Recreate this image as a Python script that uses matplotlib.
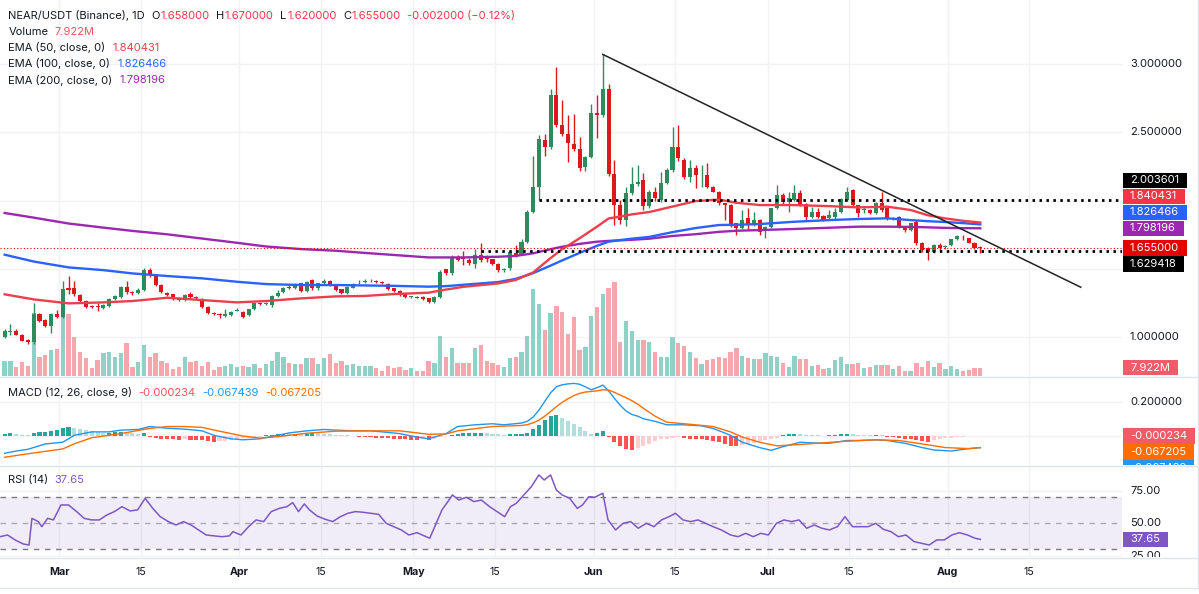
import numpy as np
import matplotlib
matplotlib.use("Agg")
import matplotlib.pyplot as plt
from matplotlib.patches import Rectangle
from matplotlib.lines import Line2D

plt.rcParams['font.family'] = ['Inter', 'DejaVu Sans']
plt.rcParams['axes.unicode_minus'] = False

# ---------------------------------------------------------------- data
opens = [1.005, 1.040, 1.049, 1.017, 0.980, 0.963, 1.168, 1.127, 1.085, 1.168,
         1.151, 1.360, 1.358, 1.310, 1.266, 1.230, 1.226, 1.212, 1.232, 1.278,
         1.298, 1.366, 1.334, 1.326, 1.346, 1.493, 1.456, 1.383, 1.326, 1.314,
         1.290, 1.273, 1.314, 1.298, 1.278, 1.224, 1.180, 1.168, 1.155, 1.163,
         1.195, 1.188, 1.163, 1.205, 1.253, 1.245, 1.237, 1.302, 1.329, 1.370,
         1.360, 1.395, 1.341, 1.420, 1.358, 1.395, 1.412, 1.380, 1.351, 1.322,
         1.363, 1.395, 1.405, 1.410, 1.415, 1.405, 1.388, 1.358, 1.341, 1.322,
         1.297, 1.295, 1.297, 1.285, 1.261, 1.297, 1.497, 1.468, 1.590, 1.578,
         1.566, 1.540, 1.603, 1.578, 1.570, 1.540, 1.495, 1.505, 1.615, 1.603,
         1.700, 1.920, 2.100, 2.444, 2.390, 2.770, 2.550, 2.490, 2.415, 2.380,
         2.244, 2.322, 2.640, 2.627, 2.817, 2.195, 1.968, 1.858, 2.053, 2.125,
         2.150, 1.963, 2.066, 2.005, 2.127, 2.224, 2.395, 2.298, 2.176, 2.237,
         2.185, 2.188, 2.102, 2.066, 1.980, 1.968, 1.834, 1.797, 1.871, 1.822,
         1.859, 1.785, 1.805, 1.944, 2.041, 1.993, 2.005, 2.053, 1.976, 1.883,
         1.920, 1.888, 1.871, 1.883, 1.920, 2.005, 2.078, 1.968, 1.930, 1.932,
         1.907, 1.980, 1.944, 1.871, 1.883, 1.810, 1.785, 1.846, 1.688, 1.651,
         1.627, 1.676, 1.660, 1.676, 1.717, 1.734, 1.724, 1.693, 1.658]
highs = [1.058, 1.100, 1.058, 1.022, 0.985, 1.249, 1.175, 1.135, 1.175, 1.200,
         1.412, 1.448, 1.412, 1.320, 1.275, 1.236, 1.253, 1.245, 1.290, 1.310,
         1.375, 1.410, 1.340, 1.360, 1.510, 1.505, 1.465, 1.390, 1.335, 1.320,
         1.298, 1.320, 1.330, 1.305, 1.285, 1.230, 1.185, 1.180, 1.205, 1.195,
         1.215, 1.195, 1.210, 1.260, 1.262, 1.260, 1.310, 1.345, 1.370, 1.380,
         1.400, 1.400, 1.410, 1.430, 1.400, 1.425, 1.420, 1.385, 1.355, 1.375,
         1.395, 1.420, 1.430, 1.425, 1.420, 1.410, 1.400, 1.360, 1.345, 1.325,
         1.305, 1.300, 1.300, 1.290, 1.300, 1.490, 1.500, 1.600, 1.600, 1.630,
         1.580, 1.650, 1.690, 1.600, 1.575, 1.545, 1.510, 1.635, 1.675, 1.720,
         1.930, 2.330, 2.480, 2.490, 2.820, 2.980, 2.740, 2.630, 2.634, 2.468,
         2.330, 2.710, 2.770, 3.070, 2.850, 2.300, 2.005, 2.100, 2.250, 2.260,
         2.200, 2.080, 2.100, 2.210, 2.240, 2.540, 2.554, 2.310, 2.298, 2.260,
         2.260, 2.273, 2.110, 2.070, 1.985, 1.975, 1.840, 1.932, 1.944, 1.920,
         1.865, 1.815, 1.950, 2.115, 2.053, 2.066, 2.115, 2.078, 1.980, 1.956,
         1.944, 1.895, 1.932, 1.944, 2.020, 2.102, 2.085, 1.970, 1.956, 1.940,
         1.990, 2.066, 1.950, 1.880, 1.890, 1.815, 1.840, 1.859, 1.695, 1.660,
         1.685, 1.688, 1.676, 1.720, 1.749, 1.749, 1.730, 1.700, 1.670]
lows = [0.998, 1.018, 1.015, 0.970, 0.955, 0.955, 1.110, 1.078, 1.029, 1.140,
        1.145, 1.317, 1.305, 1.255, 1.215, 1.212, 1.195, 1.205, 1.225, 1.270,
        1.290, 1.320, 1.310, 1.320, 1.340, 1.440, 1.375, 1.325, 1.300, 1.270,
        1.265, 1.265, 1.285, 1.280, 1.215, 1.168, 1.162, 1.140, 1.150, 1.155,
        1.190, 1.140, 1.155, 1.200, 1.240, 1.235, 1.225, 1.295, 1.325, 1.355,
        1.355, 1.335, 1.335, 1.350, 1.350, 1.390, 1.375, 1.340, 1.315, 1.318,
        1.360, 1.390, 1.400, 1.405, 1.398, 1.390, 1.345, 1.335, 1.305, 1.290,
        1.290, 1.285, 1.275, 1.250, 1.255, 1.290, 1.460, 1.460, 1.560, 1.530,
        1.530, 1.505, 1.555, 1.550, 1.530, 1.480, 1.475, 1.490, 1.590, 1.600,
        1.690, 1.910, 2.0036, 2.330, 2.380, 2.540, 2.470, 2.280, 2.360, 2.220,
        2.220, 2.310, 2.460, 2.610, 2.180, 1.820, 1.830, 1.815, 2.040, 2.110,
        1.930, 1.950, 2.000, 1.990, 2.120, 2.210, 2.290, 2.160, 2.139, 2.090,
        2.100, 2.090, 2.060, 1.970, 1.859, 1.810, 1.749, 1.790, 1.785, 1.815,
        1.749, 1.724, 1.800, 1.940, 1.968, 1.920, 2.000, 1.960, 1.859, 1.871,
        1.875, 1.850, 1.859, 1.859, 1.910, 2.000, 1.960, 1.883, 1.907, 1.900,
        1.900, 1.920, 1.859, 1.860, 1.797, 1.773, 1.780, 1.676, 1.627, 1.566,
        1.615, 1.639, 1.644, 1.670, 1.712, 1.712, 1.688, 1.645, 1.620]
closes = [1.046, 1.046, 1.020, 0.976, 0.963, 1.168, 1.122, 1.085, 1.168, 1.151,
          1.354, 1.350, 1.317, 1.266, 1.224, 1.220, 1.222, 1.237, 1.278, 1.302,
          1.371, 1.329, 1.325, 1.346, 1.493, 1.456, 1.383, 1.334, 1.310, 1.278,
          1.273, 1.310, 1.292, 1.285, 1.220, 1.176, 1.170, 1.162, 1.170, 1.188,
          1.200, 1.151, 1.205, 1.253, 1.245, 1.250, 1.302, 1.326, 1.360, 1.362,
          1.390, 1.341, 1.407, 1.358, 1.395, 1.412, 1.380, 1.346, 1.322, 1.371,
          1.388, 1.400, 1.410, 1.415, 1.405, 1.398, 1.351, 1.341, 1.310, 1.297,
          1.300, 1.290, 1.278, 1.256, 1.297, 1.480, 1.468, 1.590, 1.566, 1.573,
          1.542, 1.603, 1.566, 1.573, 1.536, 1.490, 1.500, 1.627, 1.595, 1.700,
          1.920, 2.100, 2.450, 2.390, 2.770, 2.550, 2.487, 2.420, 2.375, 2.236,
          2.322, 2.640, 2.627, 2.817, 2.195, 1.968, 1.858, 2.053, 2.120, 2.135,
          1.963, 2.066, 2.017, 2.127, 2.224, 2.395, 2.310, 2.176, 2.237, 2.188,
          2.190, 2.102, 2.066, 1.980, 1.968, 1.822, 1.797, 1.859, 1.822, 1.859,
          1.773, 1.810, 1.944, 2.041, 1.993, 2.017, 2.053, 1.968, 1.883, 1.920,
          1.883, 1.859, 1.895, 1.920, 2.010, 2.066, 1.968, 1.907, 1.935, 1.907,
          1.980, 1.932, 1.863, 1.874, 1.810, 1.785, 1.834, 1.688, 1.639, 1.627,
          1.676, 1.651, 1.664, 1.717, 1.741, 1.731, 1.693, 1.657, 1.655]
volumes_m = [14.3, 14.3, 8.3, 13.4, 9.5, 59.8, 18.1, 19.7, 24.8, 25.8,
             57.0, 59.1, 37.2, 22.9, 16.9, 7.3, 15.3, 21.9, 22.9, 18.1,
             21.7, 31.2, 8.9, 13.1, 29.6, 18.4, 21.7, 14.3, 12.7, 6.4,
             8.9, 17.8, 13.1, 14.3, 9.5, 13.1, 5.7, 8.9, 9.8, 11.2,
             8.9, 9.8, 8.9, 11.2, 7.3, 11.2, 14.3, 23.2, 18.4, 12.7,
             11.2, 11.2, 16.9, 16.9, 11.2, 16.9, 21.0, 12.7, 14.6, 10.5,
             11.4, 9.5, 9.5, 9.5, 7.3, 5.1, 9.5, 7.3, 8.9, 5.7,
             7.3, 4.8, 4.8, 14.6, 12.7, 38.2, 18.4, 26.4, 12.1, 12.1,
             12.7, 26.4, 29.3, 14.6, 12.7, 10.5, 8.9, 16.9, 18.4, 23.2,
             38.2, 82.7, 68.7, 43.9, 59.8, 67.1, 61.1, 40.1, 56.6, 24.5,
             28.0, 57.4, 66.1, 78.5, 83.7, 89.2, 32.7, 52.2, 42.9, 34.3,
             34.6, 32.7, 22.9, 17.8, 17.8, 36.9, 31.2, 28.6, 23.2, 17.5,
             11.4, 15.3, 15.9, 18.4, 16.9, 23.2, 26.4, 19.4, 16.9, 16.2,
             16.2, 21.7, 19.4, 18.4, 12.1, 8.9, 19.4, 15.9, 15.9, 9.5,
             10.5, 6.7, 7.3, 15.3, 17.8, 11.2, 11.2, 12.1, 7.3, 8.9,
             10.5, 10.5, 10.5, 6.7, 9.5, 5.1, 5.1, 12.1, 8.9, 14.3,
             8.3, 12.1, 6.7, 9.8, 6.7, 4.8, 5.7, 7.9, 7.922]

ema_idx = [0, 5, 11, 17, 22, 28, 34, 40, 45, 51, 57, 62, 67, 73, 76, 79, 85, 88, 91, 94,
           96, 99, 102, 104, 106, 108, 111, 115, 119, 123, 126, 130, 136, 142, 147, 152,
           156, 159, 162, 165, 168]
ema50 = [1.315, 1.278, 1.249, 1.256, 1.266, 1.290, 1.273, 1.256, 1.266, 1.285, 1.300,
         1.303, 1.317, 1.327, 1.350, 1.370, 1.395, 1.420, 1.475, 1.580, 1.645, 1.725,
         1.810, 1.870, 1.884, 1.900, 1.917, 1.957, 1.997, 2.008, 1.985, 1.968, 1.968,
         1.960, 1.951, 1.956, 1.932, 1.893, 1.870, 1.853, 1.840431]
ema100 = [1.605, 1.555, 1.512, 1.492, 1.468, 1.449, 1.432, 1.407, 1.390, 1.383, 1.383,
          1.380, 1.377, 1.371, 1.375, 1.385, 1.405, 1.428, 1.470, 1.525, 1.563, 1.618,
          1.670, 1.700, 1.712, 1.722, 1.735, 1.770, 1.800, 1.822, 1.824, 1.829, 1.846,
          1.858, 1.866, 1.871, 1.858, 1.850, 1.844, 1.836, 1.826466]
ema200 = [1.910, 1.876, 1.833, 1.803, 1.779, 1.754, 1.723, 1.692, 1.665, 1.646, 1.634,
          1.618, 1.603, 1.585, 1.585, 1.585, 1.590, 1.596, 1.615, 1.645, 1.663, 1.684,
          1.700, 1.706, 1.710, 1.714, 1.722, 1.742, 1.755, 1.772, 1.780, 1.785, 1.793,
          1.802, 1.810, 1.810, 1.808, 1.805, 1.801, 1.799, 1.798196]

macd_idx = [0, 2, 4, 7, 10, 12, 15, 18, 20, 23, 25, 28, 31, 34, 36, 39, 41, 44, 47, 49,
            52, 55, 57, 60, 63, 65, 68, 71, 73, 76, 78, 81, 84, 86, 89, 90, 91, 92, 93, 94,
            95, 96, 97, 98, 99, 100, 101, 102, 103, 104, 105, 106, 107, 108, 109, 110, 112,
            114, 117, 120, 122, 125, 127, 130, 132, 134, 137, 139, 142, 145, 147, 150, 152,
            155, 158, 160, 163, 166, 168]
macd_line = [-0.100, -0.087, -0.077, -0.046, -0.036, 0.004, 0.024, 0.024, 0.034, 0.038,
             0.055, 0.045, 0.040, 0.030, 0.004, -0.016, -0.022, -0.016, 0.004, 0.018,
             0.030, 0.038, 0.034, 0.030, 0.030, 0.024, 0.014, -0.006, -0.016, 0.014,
             0.055, 0.065, 0.071, 0.065, 0.075, 0.085, 0.110, 0.150, 0.200, 0.250,
             0.285, 0.297, 0.302, 0.305, 0.300, 0.285, 0.268, 0.280, 0.295, 0.262,
             0.218, 0.178, 0.145, 0.125, 0.115, 0.100, 0.085, 0.065, 0.065, 0.059,
             0.044, 0.004, -0.036, -0.067, -0.083, -0.062, -0.036, -0.040, -0.042, -0.026,
             -0.026, -0.022, -0.026, -0.042, -0.067, -0.081, -0.087, -0.073, -0.067439]
signal_idx = [0, 4, 10, 12, 15, 20, 25, 28, 31, 34, 36, 41, 44, 47, 52, 57, 62, 68, 73, 76,
              78, 84, 89, 90, 91, 92, 93, 94, 95, 96, 97, 98, 99, 100, 101, 102, 103, 104,
              105, 106, 107, 108, 109, 110, 112, 114, 118, 122, 125, 127, 130, 133, 136,
              140, 145, 150, 154, 158, 162, 166, 168]
signal_line = [-0.123, -0.103, -0.075, -0.045, -0.010, 0.014, 0.044, 0.055, 0.055, 0.050,
               0.035, 0.000, -0.012, -0.004, 0.016, 0.028, 0.030, 0.030, 0.010, 0.012,
               0.030, 0.055, 0.061, 0.066, 0.076, 0.092, 0.115, 0.142, 0.170, 0.195,
               0.216, 0.234, 0.247, 0.255, 0.258, 0.262, 0.268, 0.266, 0.253, 0.237,
               0.222, 0.205, 0.185, 0.160, 0.115, 0.080, 0.068, 0.055, 0.024, -0.006,
               -0.036, -0.057, -0.051, -0.042, -0.030, -0.022, -0.026, -0.046, -0.067, -0.073,
               -0.067205]
macd_hist = [0.012, 0.015, 0.010, 0.008, 0.006, 0.020, 0.022, 0.025, 0.030, 0.035,
             0.048, 0.050, 0.045, 0.040, 0.035, 0.028, 0.024, 0.020, 0.020, 0.022,
             0.024, 0.020, 0.015, 0.012, 0.015, -0.005, -0.010, -0.015, -0.018, -0.020,
             -0.022, -0.020, -0.022, -0.024, -0.026, -0.030, -0.032, -0.030, -0.028, -0.022,
             -0.018, -0.014, -0.010, -0.006, -0.003, 0.004, 0.008, 0.012, 0.014, 0.012,
             0.013, 0.010, 0.014, 0.016, 0.015, 0.014, 0.010, 0.008, 0.006, 0.004,
             0.002, -0.003, -0.006, -0.008, -0.010, -0.012, -0.014, -0.016, -0.018, -0.020,
             -0.021, -0.022, -0.020, -0.022, -0.015, -0.006, -0.002, 0.006, 0.012, 0.015,
             0.016, 0.018, 0.020, 0.016, 0.014, 0.012, 0.008, 0.010, 0.012, 0.014,
             0.020, 0.040, 0.065, 0.090, 0.115, 0.120, 0.105, 0.085, 0.070, 0.055,
             0.030, 0.010, 0.020, 0.030, -0.004, -0.035, -0.060, -0.078, -0.082, -0.070,
             -0.060, -0.045, -0.030, -0.020, -0.015, -0.010, -0.008, -0.010, -0.015, -0.018,
             -0.020, -0.025, -0.030, -0.035, -0.045, -0.055, -0.057, -0.050, -0.045, -0.038,
             -0.030, -0.026, -0.020, -0.010, 0.006, 0.010, 0.012, 0.010, 0.006, 0.004,
             0.003, 0.002, 0.003, 0.005, 0.010, 0.014, 0.012, 0.008, 0.006, 0.005,
             0.006, 0.004, -0.004, -0.008, -0.012, -0.016, -0.018, -0.022, -0.030, -0.032,
             -0.026, -0.020, -0.014, -0.009, -0.005, -0.003, -0.002, -0.001, -0.000234]

rsi_idx = [-0.8, 0.5, 1.8, 3.2, 4.2, 4.7, 5.8, 6.4, 7.4, 8.4, 9.7, 11.0, 12.4, 13.7, 15.0,
           16.3, 17.6, 18.9, 20.2, 21.6, 22.9, 24.2, 25.5, 26.8, 28.2, 29.5, 30.8, 32.1,
           33.4, 34.7, 36.1, 37.4, 38.7, 39.3, 40.7, 42.0, 43.3, 44.6, 45.9, 47.3, 48.6,
           49.6, 50.6, 51.6, 52.5, 53.8, 55.2, 56.5, 57.8, 59.1, 60.4, 61.7, 63.0, 64.4,
           65.7, 67.0, 68.3, 69.6, 71.0, 72.3, 73.2, 74.3, 75.3, 76.2, 77.1, 78.2, 79.5,
           80.8, 82.1, 83.5, 84.8, 86.1, 87.1, 88.1, 89.4, 90.7, 92.0, 92.9, 94.0, 95.0,
           96.0, 97.3, 98.6, 99.5, 100.6, 101.6, 103.0, 103.9, 105.2, 106.5, 107.8, 109.1,
           110.5, 111.8, 113.1, 114.4, 115.5, 116.8, 118.1, 119.4, 120.7, 122.0, 123.4,
           125.0, 126.3, 127.6, 128.9, 130.2, 131.5, 132.9, 134.2, 135.5, 136.8, 138.1,
           139.4, 140.7, 142.0, 143.4, 144.7, 146.0, 147.3, 148.7, 150.0, 151.3, 152.6,
           153.9, 155.2, 156.6, 157.9, 159.2, 160.5, 161.8, 163.1, 164.4, 165.8, 167.1, 168.0]
rsi_vals = [39.7, 41.0, 37.2, 34.1, 33.3, 53.8, 51.3, 47.4, 53.8, 52.6, 64.1, 64.1, 59.0,
            53.8, 52.6, 52.6, 56.4, 59.0, 62.8, 59.5, 60.3, 69.2, 61.5, 55.1, 51.3, 48.7,
            51.3, 48.7, 44.9, 41.0, 40.3, 39.7, 40.3, 43.6, 41.0, 47.4, 52.6, 51.3, 59.0,
            61.5, 62.8, 65.9, 59.0, 64.9, 60.3, 55.6, 53.1, 51.3, 55.1, 57.7, 59.0, 58.5,
            57.7, 56.9, 50.0, 47.4, 44.9, 41.0, 42.8, 40.3, 38.5, 50.0, 60.3, 65.9, 71.8,
            67.9, 70.0, 66.7, 67.9, 62.8, 59.0, 55.1, 62.8, 65.4, 71.8, 78.2, 87.2, 83.3,
            87.2, 75.6, 71.8, 69.2, 61.5, 64.1, 70.5, 70.0, 73.1, 52.6, 44.9, 50.0, 51.3,
            46.2, 50.0, 47.4, 52.6, 55.1, 57.7, 52.6, 51.3, 52.6, 50.0, 47.4, 44.9, 41.0,
            39.7, 42.3, 39.7, 42.3, 41.0, 50.0, 52.6, 51.3, 52.6, 46.2, 48.7, 46.2, 44.9,
            47.4, 55.1, 47.4, 47.4, 47.4, 50.0, 45.4, 43.6, 39.7, 41.0, 35.9, 34.6, 33.3,
            37.2, 37.2, 41.0, 42.8, 41.0, 38.5, 37.65]

# calendar: candle 0 is 9.4 bar-widths left of the 1 March gridline
tick_days = [0, 14, 31, 45, 61, 75, 92, 106, 122, 136, 153, 167]
tick_labels = ['Mar', '15', 'Apr', '15', 'May', '15', 'Jun', '15', 'Jul', '15', 'Aug', '15']
tick_bold = [True, False, True, False, True, False, True, False, True, False, True, False]
day0_offset = 9.4

support_level, support_from = 2.003601, 92
lower_level, lower_from = 1.629418, 82
trend_idx = [103, 185.3]
trend_vals = [3.07, 1.367]
last_close = 1.655
last_volume = 7.922
last_rsi = 37.65
price_ticks = [1.0, 1.5, 2.0, 2.5, 3.0]
macd_ticks = [0.0, 0.2]
rsi_ticks = [25, 50, 75]

# ---------------------------------------------------------------- style
DARK = '#131722'
UP, DN = '#2e8b5c', '#e0161f'
VUP, VDN = '#8fd1c6', '#f6a7ae'
C50, C100, C200 = '#ec3f4d', '#2962ff', '#9c27b0'
GRID = '#f0f2f6'
SEP = '#e0e3eb'

W, H = 1199, 594
fig = plt.figure(figsize=(W / 100, H / 100), dpi=100)
fig.patch.set_facecolor('white')
renderer = fig.canvas.get_renderer()

PLOT_R = 1122
MAIN_P, MACD_P, RSI_P = (0, 376), (377, 465), (466, 557)


def rect(top, bottom, left=0, right=PLOT_R):
    return [left / W, 1 - bottom / H, (right - left) / W, (bottom - top) / H]


def clean(a, face='none'):
    a.set_facecolor(face)
    for s in a.spines.values():
        s.set_visible(False)
    a.set_xticks([])
    a.set_yticks([])


ax_vol = fig.add_axes(rect(*MAIN_P))
ax = fig.add_axes(rect(*MAIN_P))
ax_m = fig.add_axes(rect(*MACD_P))
ax_r = fig.add_axes(rect(*RSI_P))
sc_main = fig.add_axes(rect(*MAIN_P, left=PLOT_R, right=W))
sc_vol = fig.add_axes(rect(*MAIN_P, left=PLOT_R, right=W))
sc_m = fig.add_axes(rect(*MACD_P, left=PLOT_R, right=W))
sc_r = fig.add_axes(rect(*RSI_P, left=PLOT_R, right=W))
clean(ax_vol, 'white')
for a in (ax, ax_m, ax_r, sc_main, sc_vol, sc_m, sc_r):
    clean(a)

n = len(closes)
idx = np.arange(n)
o, h, l, c = map(np.asarray, (opens, highs, lows, closes))
XL = (-0.8, 192.4)
P_LIM = (0.7176, 3.468)
V_LIM = (0, 358.7)
M_LIM = (-0.168, 0.342)
R_LIM = (24.08, 94.08)
for a in (ax_vol, ax, ax_m, ax_r):
    a.set_xlim(*XL)
ax.set_ylim(*P_LIM)
ax_vol.set_ylim(*V_LIM)
ax_m.set_ylim(*M_LIM)
ax_r.set_ylim(*R_LIM)
for a in (sc_main, sc_vol, sc_m, sc_r):
    a.set_xlim(0, W - PLOT_R)
sc_main.set_ylim(*P_LIM)
sc_vol.set_ylim(*V_LIM)
sc_m.set_ylim(*M_LIM)
sc_r.set_ylim(*R_LIM)

tick_pos = [d + day0_offset for d in tick_days]

# grid
for tp in tick_pos:
    for a in (ax_vol, ax_m, ax_r):
        a.axvline(tp, color=GRID, lw=1, zorder=0)
for p in price_ticks:
    ax_vol.plot(XL, [p, p], transform=ax.transData, color=GRID, lw=1, zorder=0)
for v in macd_ticks:
    ax_m.axhline(v, color=GRID, lw=1, zorder=0)
for v in (25, 75):
    ax_r.axhline(v, color=GRID, lw=1, zorder=0)

# volume
up = c >= o
ax_vol.bar(idx, volumes_m, width=0.74, color=np.where(up, VUP, VDN), zorder=1, lw=0)

# candles
cols = np.where(up, UP, DN)
ax.vlines(idx, l, h, colors=cols, lw=1.0, zorder=2)
ax.bar(idx, np.maximum(np.abs(c - o), 0.006), bottom=np.minimum(o, c), width=0.7,
       color=cols, lw=0, zorder=3)

# EMAs
ax.plot(ema_idx, ema200, color=C200, lw=1.7, zorder=4, solid_joinstyle='round')
ax.plot(ema_idx, ema100, color=C100, lw=1.7, zorder=4, solid_joinstyle='round')
ax.plot(ema_idx, ema50, color=C50, lw=1.7, zorder=4, solid_joinstyle='round')

# drawings
ax.axhline(last_close, color='#e50000', lw=0.8, ls=(0, (1, 2)), zorder=5)
ax.plot([support_from, XL[1]], [support_level] * 2, color='black', lw=2.0,
        ls=(0, (0.9, 1.6)), zorder=6)
ax.plot([lower_from, XL[1]], [lower_level] * 2, color='black', lw=2.0,
        ls=(0, (0.9, 1.6)), zorder=6)
ax.plot(trend_idx, trend_vals, color='#222222', lw=1.1, zorder=6)

# MACD
hist = np.asarray(macd_hist)
hcols = []
for i, v in enumerate(hist):
    prev = hist[i - 1] if i > 0 else v
    if v >= 0:
        hcols.append('#26a69a' if v >= prev else '#b2dfdb')
    else:
        hcols.append('#ff5252' if v <= prev else '#ffcdd2')
ax_m.bar(idx, hist, width=0.7, color=hcols, lw=0, zorder=2)
ax_m.plot(macd_idx, macd_line, color='#2196f3', lw=1.0, zorder=3)
ax_m.plot(signal_idx, signal_line, color='#ff6d00', lw=1.0, zorder=3)

# RSI
ax_r.axhspan(30, 70, color='#7e57c2', alpha=0.1, lw=0, zorder=1)
for v, al in ((70, 1.0), (50, 0.6), (30, 1.0)):
    ax_r.axhline(v, color='#787b86', lw=1, ls=(0, (4, 4)), alpha=al, zorder=2)
ax_r.plot(rsi_idx, rsi_vals, color='#7e57c2', lw=1.1, zorder=3)

# ---------------------------------------------------------------- text
def fit_size(txt, target_px, **kw):
    t = fig.text(0, 0, txt, fontsize=10, **kw)
    w = t.get_window_extent(renderer).width
    t.remove()
    return 10 * target_px / w


HFS = fit_size('EMA (50, close, 0)', 97.6)
AFS = fit_size('3.000000', 53.0)
XFS = fit_size('Mar', 20.5, fontweight='bold')


def segments(x_px, y_px, parts, fs):
    x = x_px
    for txt, col, gap in parts:
        t = fig.text(x / W, 1 - y_px / H, txt, color=col, fontsize=fs, ha='left', va='center')
        x += t.get_window_extent(renderer).width + gap


RED = '#f23645'
segments(8.4, 15.7, [('NEAR/USDT (Binance), 1D', DARK, 6.5), ('O', DARK, 0.6), ('1.658000', RED, 6.5),
                     ('H', DARK, 0.6), ('1.670000', RED, 6.5), ('L', DARK, 0.6), ('1.620000', RED, 6.5),
                     ('C', DARK, 0.6), ('1.655000', RED, 6.5), ('-0.002000 (\u22120.12%)', RED, 0)], HFS)
segments(8.4, 31.7, [('Volume', DARK, 6.5), ('7.922M', '#f7525f', 0)], HFS)
segments(8.4, 47.7, [('EMA (50, close, 0)', DARK, 7), ('1.840431', C50, 0)], HFS)
segments(8.4, 63.7, [('EMA (100, close, 0)', DARK, 7), ('1.826466', C100, 0)], HFS)
segments(8.4, 80.0, [('EMA (200, close, 0)', DARK, 7), ('1.798196', C200, 0)], HFS)
segments(7.6, 392.5, [('MACD (12, 26, close, 9)', DARK, 7), ('-0.000234', '#f7525f', 6.5),
                      ('-0.067439', '#2196f3', 6.5), ('-0.067205', '#ff6d00', 0)], HFS)
segments(7.6, 480.0, [('RSI (14)', DARK, 6.5), ('37.65', '#7e57c2', 0)], HFS)

BOX_H = 15.5


def draw_box(sc, yd, txt, col, hpx):
    t = sc.text(8, yd, txt, fontsize=AFS, color='white', va='center', ha='left', clip_on=True, zorder=6)
    w = t.get_window_extent(renderer).width
    y0 = sc.transData.transform((0, yd))[1]
    yb = sc.transData.inverted().transform((0, y0 - hpx / 2))[1]
    yt = sc.transData.inverted().transform((0, y0 + hpx / 2))[1]
    sc.add_patch(Rectangle((0.7, yb), w + 15, yt - yb, facecolor=col, edgecolor='none',
                           zorder=5, clip_on=True))


def stacked(sc, items, spacing=16.0, hpx=BOX_H):
    placed = []
    for val, txt, col in items:
        y = sc.transData.transform((0, val))[1]
        moved = True
        while moved:
            moved = False
            for yp, vp in placed:
                if abs(y - yp) < spacing - 0.01:
                    y = yp + spacing if val > vp else yp - spacing
                    moved = True
        placed.append((y, val))
        yd = sc.transData.inverted().transform((0, y))[1]
        draw_box(sc, yd, txt, col, hpx)
    return [yp for yp, _ in placed]


def scale_ticks(sc, values, fmt, boxes):
    # a tick label that would sit under a value box is hidden, as on the original scale
    for v in values:
        y = sc.transData.transform((0, v))[1]
        if any(abs(y - yb) < BOX_H / 2 + 6 for yb in boxes):
            continue
        sc.text(8, v, fmt.format(v), fontsize=AFS, color=DARK, va='center', ha='left',
                clip_on=True, zorder=1)


main_boxes = stacked(sc_main, [(last_close, f'{last_close:.6f}', '#e50000'),
                               (ema200[-1], f'{ema200[-1]:.6f}', C200),
                               (ema100[-1], f'{ema100[-1]:.6f}', C100),
                               (ema50[-1], f'{ema50[-1]:.6f}', '#f23645'),
                               (support_level, f'{support_level:.6f}', '#000000'),
                               (lower_level, f'{lower_level:.6f}', '#000000')])
vol_boxes = stacked(sc_vol, [(last_volume, f'{last_volume:.3f}M', '#f45b69')])
macd_boxes = stacked(sc_m, [(macd_hist[-1], f'{macd_hist[-1]:.6f}', '#f15b66'),
                            (signal_line[-1], f'{signal_line[-1]:.6f}', '#ff6d00'),
                            (macd_line[-1], f'{macd_line[-1]:.6f}', '#2196f3')])
rsi_boxes = stacked(sc_r, [(last_rsi, f'{last_rsi:.2f}', '#7e57c2')])

scale_ticks(sc_main, price_ticks, '{:.6f}', main_boxes + vol_boxes)
scale_ticks(sc_m, macd_ticks, '{:.6f}', macd_boxes)
scale_ticks(sc_r, rsi_ticks, '{:.2f}', rsi_boxes)

# x-axis labels
for tp, lab, b in zip(tick_pos, tick_labels, tick_bold):
    xd = ax_r.transData.transform((tp, 0))[0]
    fig.text(xd / W, 1 - 572 / H, lab, fontsize=XFS, color=DARK, ha='center', va='center',
             fontweight='bold' if b else 'normal')

# separators
for yy in (376.5, 465.5, 557.5, 587.5):
    fig.add_artist(Line2D([0, 1], [1 - yy / H] * 2, transform=fig.transFigure, color=SEP, lw=1))
fig.add_artist(Line2D([1197.5 / W] * 2, [1 - 587.5 / H, 1], transform=fig.transFigure, color=SEP, lw=1))

fig.savefig('out.png', dpi=100, facecolor='white')
